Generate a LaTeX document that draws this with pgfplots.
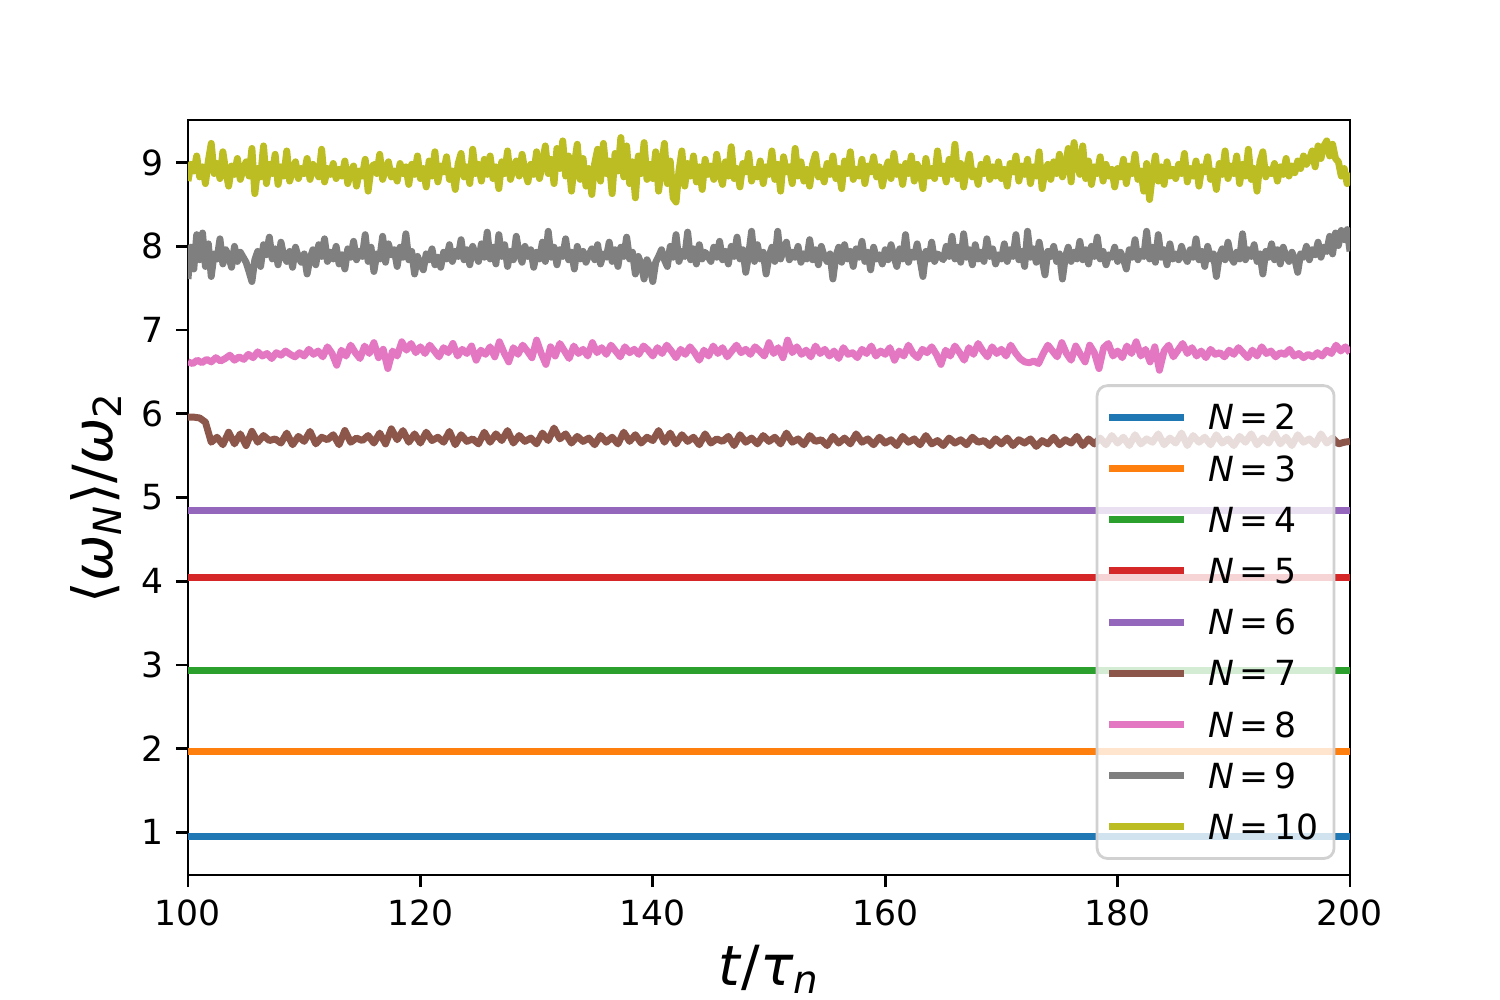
\documentclass[border=0pt]{standalone}
\usepackage{fontspec}
\setmainfont{DejaVu Sans}
\usepackage{pgfplots}
\pgfplotsset{compat=1.18}
\usepackage{pgfplotstable}

\definecolor{c0}{HTML}{1F77B4}
\definecolor{c1}{HTML}{FF7F0E}
\definecolor{c2}{HTML}{2CA02C}
\definecolor{c3}{HTML}{D62728}
\definecolor{c4}{HTML}{9467BD}
\definecolor{c5}{HTML}{8C564B}
\definecolor{c6}{HTML}{E377C2}
\definecolor{c7}{HTML}{7F7F7F}
\definecolor{c8}{HTML}{BCBD22}

% N=10, t = 100 + 0.25*i
\pgfplotstableread[row sep=\\]{y\\
8.78\\8.98\\8.90\\9.08\\8.83\\8.95\\8.75\\9.02\\9.23\\8.87\\8.99\\8.81\\9.13\\8.90\\8.72\\8.96\\8.86\\9.05\\8.80\\8.92\\
9.01\\8.84\\9.17\\8.63\\8.93\\8.83\\9.20\\8.75\\8.98\\8.87\\9.10\\8.74\\8.95\\8.84\\9.14\\8.78\\8.90\\9.01\\8.81\\8.93\\
8.87\\9.05\\8.80\\8.98\\8.90\\8.83\\9.16\\8.77\\8.93\\8.86\\8.99\\8.81\\8.92\\8.84\\9.02\\8.75\\8.89\\8.96\\8.72\\8.90\\
8.84\\9.04\\8.66\\8.93\\8.98\\8.87\\9.10\\8.80\\8.92\\9.01\\8.83\\8.90\\8.78\\8.99\\8.87\\8.95\\8.74\\8.98\\8.86\\9.08\\
8.81\\8.93\\8.71\\9.02\\8.84\\9.13\\8.77\\8.96\\8.89\\9.07\\8.80\\8.90\\8.68\\8.99\\9.11\\8.83\\8.95\\8.75\\9.16\\8.87\\
8.98\\8.78\\9.04\\8.86\\9.08\\8.81\\8.95\\8.69\\9.01\\8.87\\9.14\\8.80\\8.93\\9.02\\8.84\\9.10\\8.90\\8.77\\8.98\\8.86\\
9.13\\8.81\\8.99\\9.20\\8.87\\9.04\\8.75\\9.17\\8.93\\9.26\\8.84\\9.08\\8.66\\8.98\\9.22\\8.80\\9.05\\8.72\\8.93\\8.62\\
8.99\\9.16\\8.78\\9.23\\8.87\\9.02\\8.63\\9.11\\8.90\\9.30\\8.83\\9.20\\8.75\\9.01\\8.58\\9.08\\8.87\\9.24\\8.80\\8.98\\
8.81\\9.13\\8.66\\8.95\\9.23\\8.75\\9.02\\8.58\\8.53\\8.90\\9.14\\8.72\\8.99\\8.84\\9.08\\8.77\\8.95\\8.68\\9.04\\8.86\\
8.96\\8.80\\9.10\\8.87\\8.74\\9.01\\8.84\\9.19\\8.81\\8.93\\8.71\\8.99\\8.89\\9.11\\8.78\\8.92\\8.83\\9.02\\8.75\\8.95\\
8.86\\9.14\\8.80\\8.98\\8.66\\9.07\\8.89\\8.95\\8.75\\9.17\\8.84\\9.01\\8.78\\8.92\\8.72\\8.98\\9.10\\8.83\\8.90\\8.77\\
8.99\\8.86\\9.08\\8.81\\8.93\\8.69\\9.02\\8.87\\9.13\\8.80\\8.92\\8.84\\9.04\\8.75\\8.96\\8.89\\9.07\\8.83\\8.95\\8.72\\
8.90\\9.01\\8.81\\9.11\\8.86\\8.95\\8.74\\8.99\\8.87\\9.08\\8.78\\8.98\\8.90\\8.69\\9.05\\8.84\\8.93\\8.81\\9.14\\8.87\\
8.96\\8.77\\9.04\\8.86\\9.22\\8.81\\8.99\\8.71\\8.93\\9.10\\8.83\\8.90\\8.74\\8.98\\8.87\\9.05\\8.80\\8.95\\8.84\\9.01\\
8.81\\8.92\\8.72\\8.99\\8.89\\9.08\\8.78\\8.96\\8.86\\9.04\\8.75\\8.95\\8.84\\9.13\\8.69\\8.90\\8.98\\8.80\\9.01\\8.87\\
9.10\\8.83\\8.93\\9.17\\8.77\\9.24\\8.99\\8.86\\9.20\\8.81\\9.02\\8.74\\8.95\\8.87\\9.07\\8.78\\8.98\\8.84\\8.92\\8.71\\
8.93\\8.83\\9.04\\8.75\\8.96\\8.87\\9.10\\8.80\\8.90\\8.66\\8.99\\8.56\\8.86\\9.08\\8.78\\8.95\\8.74\\9.01\\8.84\\8.92\\
8.81\\8.98\\8.87\\9.11\\8.77\\8.93\\8.84\\9.02\\8.72\\8.95\\8.89\\9.07\\8.80\\8.90\\8.68\\8.99\\8.86\\9.14\\8.81\\8.96\\
8.87\\9.08\\8.75\\8.98\\8.84\\9.16\\8.80\\8.93\\8.66\\9.01\\9.13\\8.83\\8.92\\8.87\\8.99\\8.78\\8.95\\8.86\\9.05\\8.84\\
8.96\\8.88\\9.02\\8.93\\9.08\\8.98\\9.04\\9.14\\8.95\\9.20\\9.05\\9.20\\9.26\\9.08\\9.22\\9.05\\9.01\\8.84\\8.93\\8.75\\
8.88\\
}\dataten

% N=9, t = 100 + 0.25*i
\pgfplotstableread[row sep=\\]{y\\
7.61\\7.99\\7.73\\8.14\\7.84\\8.16\\7.76\\8.03\\7.64\\7.91\\7.85\\8.09\\7.79\\7.96\\7.88\\7.75\\8.00\\7.82\\7.93\\7.87\\
7.81\\7.70\\7.58\\7.84\\7.94\\7.76\\8.02\\7.90\\8.11\\7.85\\7.97\\7.78\\8.05\\7.88\\7.82\\7.94\\7.75\\7.99\\7.87\\7.81\\
7.91\\7.67\\7.85\\7.96\\7.78\\8.02\\7.88\\8.09\\7.82\\7.93\\7.85\\8.00\\7.79\\7.90\\7.73\\7.97\\7.87\\8.06\\7.84\\7.94\\
7.88\\8.14\\7.82\\7.99\\7.70\\7.91\\7.85\\8.12\\7.81\\8.03\\7.90\\7.96\\7.76\\7.99\\7.87\\8.15\\7.84\\7.94\\7.67\\7.88\\
7.79\\7.72\\7.91\\7.84\\7.97\\7.78\\7.87\\7.75\\7.93\\7.85\\8.02\\7.82\\7.94\\7.88\\8.08\\7.84\\7.96\\7.78\\8.00\\7.90\\
7.82\\8.03\\7.87\\8.17\\7.85\\7.99\\7.79\\8.14\\7.88\\8.02\\7.76\\7.94\\7.84\\8.12\\7.91\\7.81\\8.00\\7.88\\7.96\\7.75\\
7.93\\7.85\\8.05\\7.82\\8.18\\7.87\\7.99\\7.78\\7.96\\7.88\\8.09\\7.84\\7.93\\7.73\\8.00\\7.85\\7.94\\7.81\\7.90\\7.97\\
7.84\\8.02\\7.79\\7.91\\7.87\\8.05\\7.82\\7.96\\7.76\\7.99\\7.88\\8.11\\7.85\\7.93\\7.67\\7.88\\7.79\\7.61\\7.84\\7.75\\
7.58\\7.81\\7.88\\7.96\\7.84\\7.76\\8.00\\7.87\\8.14\\7.82\\7.94\\7.88\\8.17\\7.84\\7.97\\7.79\\8.02\\7.85\\7.93\\7.88\\
7.82\\7.99\\7.87\\8.06\\7.84\\7.94\\7.79\\8.00\\7.88\\8.11\\7.85\\7.96\\7.69\\7.90\\8.18\\7.82\\8.02\\7.85\\7.93\\7.67\\
7.88\\7.99\\7.82\\8.18\\7.85\\7.96\\8.05\\7.84\\7.93\\7.87\\8.00\\7.81\\7.91\\7.85\\8.08\\7.84\\7.96\\7.78\\8.00\\7.88\\
7.82\\7.91\\7.61\\7.88\\7.99\\7.81\\8.02\\7.85\\7.94\\7.76\\7.97\\7.87\\8.06\\7.82\\7.93\\7.72\\7.99\\7.85\\7.90\\7.79\\
7.96\\7.84\\8.02\\7.88\\7.76\\7.97\\7.85\\8.14\\7.81\\7.93\\7.87\\8.03\\7.84\\7.64\\7.94\\7.85\\8.05\\7.82\\7.91\\7.88\\
7.84\\8.00\\7.88\\8.12\\7.85\\7.99\\7.81\\8.15\\7.87\\7.96\\7.78\\8.02\\7.85\\7.93\\7.82\\8.09\\7.88\\7.97\\7.79\\7.90\\
7.85\\8.03\\7.82\\7.96\\7.88\\8.14\\7.84\\7.94\\7.76\\8.18\\7.87\\7.97\\7.81\\8.05\\7.85\\7.66\\7.94\\7.88\\8.00\\7.82\\
7.91\\7.61\\7.87\\7.99\\7.82\\7.93\\7.85\\8.06\\7.84\\7.96\\7.79\\8.00\\7.88\\8.11\\7.85\\7.94\\7.78\\7.90\\7.87\\7.99\\
7.82\\7.93\\7.85\\7.73\\7.96\\7.87\\8.08\\7.84\\7.94\\7.88\\8.18\\7.85\\7.99\\7.81\\8.14\\7.87\\7.96\\7.78\\8.03\\7.85\\
7.91\\7.84\\8.00\\7.88\\7.82\\7.96\\7.87\\8.09\\7.84\\7.94\\7.76\\8.00\\7.85\\7.91\\7.64\\7.88\\7.97\\7.84\\8.05\\7.87\\
7.81\\7.93\\7.85\\8.15\\7.84\\7.96\\7.88\\8.02\\7.82\\7.91\\7.67\\7.94\\7.87\\8.03\\7.84\\7.96\\7.79\\7.99\\7.88\\7.82\\
7.93\\7.85\\7.69\\7.91\\7.87\\8.00\\7.84\\7.96\\7.90\\8.05\\7.87\\7.99\\7.94\\8.12\\7.91\\8.16\\8.01\\8.19\\8.08\\8.20\\
7.94\\
}\datanine

% N=8, t = 100 + 0.4*i
\pgfplotstableread[row sep=\\]{y\\
6.62\\6.60\\6.64\\6.61\\6.65\\6.62\\6.67\\6.63\\6.66\\6.70\\6.64\\6.68\\6.65\\6.71\\6.67\\6.74\\6.69\\6.72\\6.66\\6.73\\6.70\\6.75\\6.71\\6.68\\6.73\\
6.69\\6.77\\6.71\\6.75\\6.68\\6.80\\6.72\\6.58\\6.76\\6.69\\6.82\\6.73\\6.66\\6.81\\6.72\\6.85\\6.67\\6.77\\6.54\\6.75\\6.69\\6.86\\6.76\\6.84\\6.73\\
6.80\\6.72\\6.82\\6.75\\6.68\\6.79\\6.73\\6.84\\6.69\\6.77\\6.72\\6.81\\6.64\\6.76\\6.71\\6.80\\6.68\\6.86\\6.73\\6.62\\6.79\\6.71\\6.82\\6.75\\6.67\\
6.88\\6.72\\6.59\\6.80\\6.69\\6.84\\6.75\\6.66\\6.81\\6.72\\6.77\\6.69\\6.85\\6.73\\6.79\\6.71\\6.82\\6.75\\6.68\\6.80\\6.73\\6.77\\6.71\\6.81\\6.76\\
6.69\\6.79\\6.72\\6.82\\6.75\\6.67\\6.77\\6.71\\6.80\\6.73\\6.64\\6.76\\6.69\\6.81\\6.72\\6.79\\6.68\\6.75\\6.82\\6.73\\6.77\\6.71\\6.80\\6.75\\6.69\\
6.85\\6.72\\6.79\\6.67\\6.88\\6.73\\6.80\\6.71\\6.76\\6.68\\6.81\\6.72\\6.77\\6.69\\6.75\\6.66\\6.79\\6.71\\6.73\\6.67\\6.77\\6.72\\6.81\\6.69\\6.75\\
6.71\\6.79\\6.64\\6.75\\6.69\\6.82\\6.72\\6.67\\6.77\\6.73\\6.80\\6.71\\6.59\\6.76\\6.69\\6.81\\6.73\\6.64\\6.79\\6.71\\6.84\\6.75\\6.68\\6.80\\6.72\\
6.77\\6.69\\6.82\\6.73\\6.66\\6.62\\6.61\\6.63\\6.60\\6.72\\6.82\\6.75\\6.68\\6.85\\6.72\\6.64\\6.81\\6.71\\6.62\\6.82\\6.73\\6.54\\6.79\\6.84\\6.69\\
6.75\\6.67\\6.81\\6.72\\6.86\\6.69\\6.77\\6.62\\6.80\\6.52\\6.75\\6.82\\6.68\\6.76\\6.84\\6.72\\6.79\\6.69\\6.75\\6.67\\6.77\\6.71\\6.73\\6.68\\6.76\\
6.71\\6.79\\6.73\\6.67\\6.76\\6.69\\6.80\\6.72\\6.75\\6.68\\6.73\\6.71\\6.77\\6.69\\6.72\\6.67\\6.71\\6.68\\6.73\\6.69\\6.76\\6.72\\6.82\\6.75\\6.80\\
6.73\\
}\dataeight

% N=7, t = 100 + 0.5*i
\pgfplotstableread[row sep=\\]{y\\
5.96\\5.96\\5.95\\5.90\\5.66\\5.72\\5.63\\5.78\\5.64\\5.76\\5.62\\5.79\\5.66\\5.74\\5.68\\5.70\\5.65\\5.77\\5.63\\5.73\\
5.67\\5.79\\5.64\\5.72\\5.69\\5.75\\5.63\\5.80\\5.66\\5.71\\5.68\\5.74\\5.65\\5.77\\5.64\\5.82\\5.69\\5.80\\5.66\\5.76\\
5.65\\5.78\\5.68\\5.72\\5.66\\5.79\\5.63\\5.75\\5.67\\5.70\\5.64\\5.78\\5.66\\5.76\\5.68\\5.80\\5.65\\5.74\\5.67\\5.71\\
5.64\\5.77\\5.68\\5.83\\5.70\\5.76\\5.65\\5.73\\5.67\\5.71\\5.63\\5.74\\5.66\\5.72\\5.64\\5.78\\5.67\\5.75\\5.65\\5.72\\
5.68\\5.80\\5.66\\5.77\\5.64\\5.75\\5.67\\5.72\\5.63\\5.76\\5.65\\5.70\\5.67\\5.73\\5.62\\5.75\\5.66\\5.71\\5.64\\5.74\\
5.67\\5.72\\5.64\\5.77\\5.66\\5.70\\5.63\\5.74\\5.67\\5.69\\5.62\\5.73\\5.65\\5.71\\5.64\\5.76\\5.66\\5.70\\5.63\\5.72\\
5.65\\5.69\\5.62\\5.73\\5.66\\5.70\\5.63\\5.74\\5.64\\5.68\\5.62\\5.71\\5.65\\5.69\\5.63\\5.72\\5.66\\5.68\\5.62\\5.70\\
5.64\\5.71\\5.62\\5.69\\5.65\\5.70\\5.61\\5.68\\5.64\\5.72\\5.63\\5.69\\5.65\\5.73\\5.62\\5.70\\5.64\\5.71\\5.63\\5.74\\
5.65\\5.72\\5.62\\5.75\\5.64\\5.70\\5.66\\5.76\\5.63\\5.71\\5.65\\5.77\\5.62\\5.74\\5.66\\5.72\\5.63\\5.75\\5.65\\5.70\\
5.62\\5.73\\5.66\\5.76\\5.63\\5.71\\5.65\\5.77\\5.64\\5.72\\5.62\\5.75\\5.66\\5.70\\5.63\\5.76\\5.65\\5.71\\5.64\\5.66\\
5.67\\
}\dataseven

\begin{document}
\begin{tikzpicture}
\begin{axis}[
  at={(0,0)}, anchor=south west,
  scale only axis, width=4.648in, height=3.02in,
  xmin=100, xmax=200, ymin=0.49, ymax=9.51,
  enlargelimits=false,
  xtick={100,120,...,200}, ytick={1,2,...,9},
  tick align=outside, xtick pos=left, ytick pos=left,
  major tick length=3.5pt,
  every tick/.style={black, line width=0.8pt},
  axis line style={line width=0.8pt},
  /pgf/number format/assume math mode=true,
  ticklabel style={font=\fontsize{10}{12}\selectfont},
  xlabel={\textit{t}/\textit{τ}\textsubscript{\textit{n}}},
  ylabel={⟨\textit{ω}\textsubscript{\textit{N}}⟩/\textit{ω}\textsubscript{2}},
  label style={font=\fontsize{16}{19}\selectfont},
  xlabel style={at={(axis description cs:0.5,-0.1457)}, anchor=base},
  ylabel style={at={(axis description cs:-0.065,0.5)}, anchor=base},
  every axis plot/.append style={line width=2pt, line join=round, no markers},
  legend cell align=left,
  legend image code/.code={\draw[#1] (0pt,0pt) -- (21.6pt,0pt);},
  legend style={at={(0.9875,0.02)}, anchor=south east,
    draw=black!18, line width=0.8pt, rounded corners=3pt,
    fill=white, fill opacity=0.8, text opacity=1,
    font=\fontsize{10}{12}\selectfont,
    inner xsep=2.5pt, inner ysep=5.5pt, row sep=7.5pt, column sep=6pt,
    nodes={inner sep=0pt, text height=7.3pt, text depth=0pt}},
]
\addplot[c0] coordinates {(100,0.955) (200,0.955)};
\addlegendentry{\textit{N}\,=\,2\kern2pt}
\addplot[c1] coordinates {(100,1.97) (200,1.97)};
\addlegendentry{\textit{N}\,=\,3\kern2pt}
\addplot[c2] coordinates {(100,2.93) (200,2.93)};
\addlegendentry{\textit{N}\,=\,4\kern2pt}
\addplot[c3] coordinates {(100,4.04) (200,4.04)};
\addlegendentry{\textit{N}\,=\,5\kern2pt}
\addplot[c4] coordinates {(100,4.84) (200,4.84)};
\addlegendentry{\textit{N}\,=\,6\kern2pt}
\addplot[c5] table[x expr=100+0.5*\coordindex, y=y] {\dataseven};
\addlegendentry{\textit{N}\,=\,7\kern2pt}
\addplot[c6] table[x expr=100+0.4*\coordindex, y=y] {\dataeight};
\addlegendentry{\textit{N}\,=\,8\kern2pt}
\addplot[c7] table[x expr=100+0.25*\coordindex, y=y] {\datanine};
\addlegendentry{\textit{N}\,=\,9\kern2pt}
\addplot[c8] table[x expr=100+0.25*\coordindex, y=y] {\dataten};
\addlegendentry{\textit{N}\,=\,10\kern2pt}
\end{axis}
\pgfresetboundingbox
\path[use as bounding box] (-0.752in,-0.5in) rectangle (5.248in,3.5in);
\end{tikzpicture}
\end{document}
